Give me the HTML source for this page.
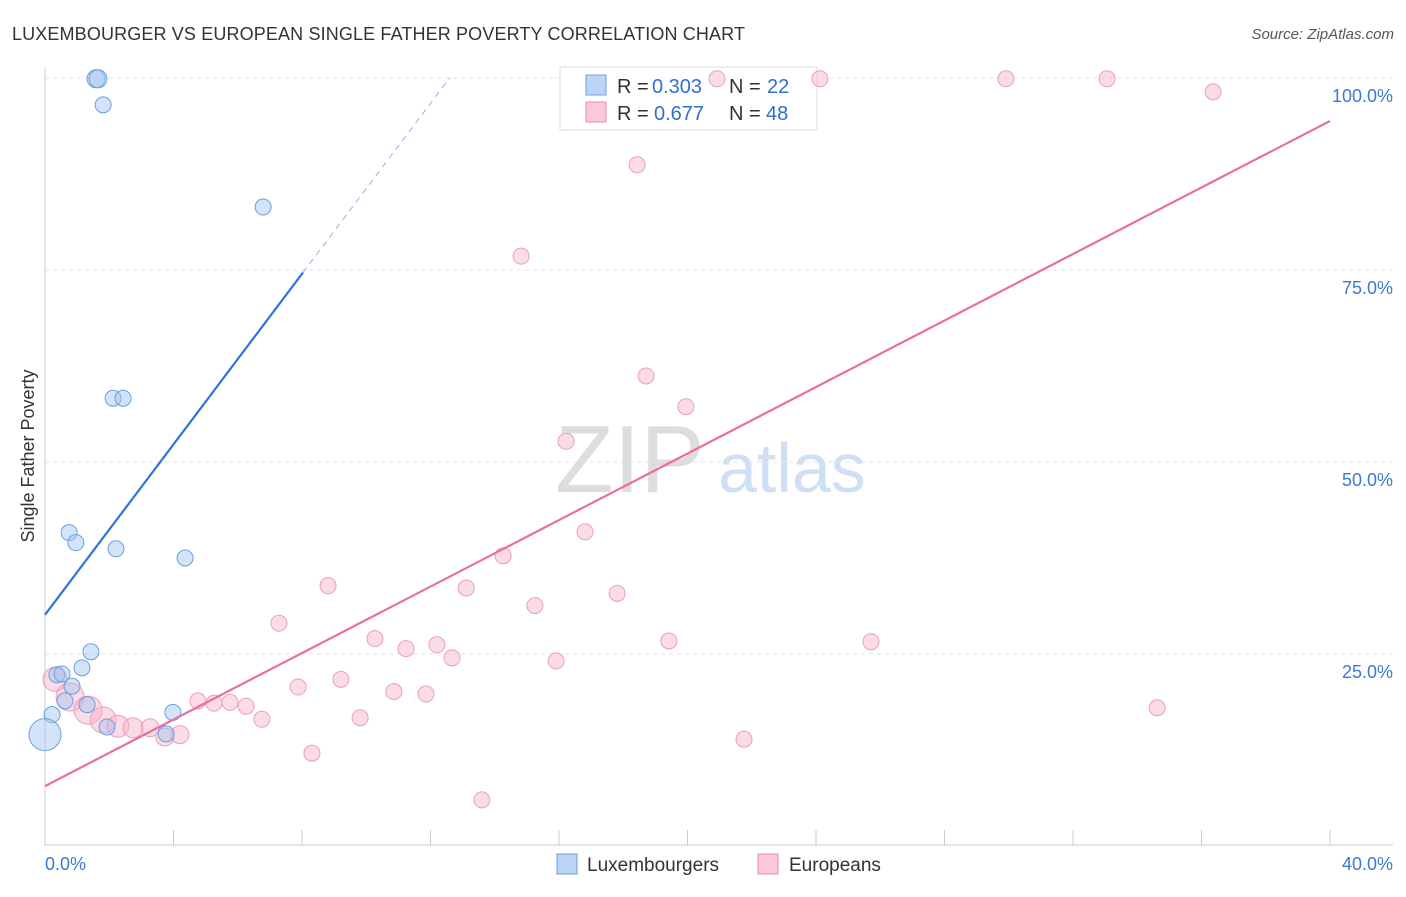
<!DOCTYPE html>
<html><head><meta charset="utf-8"><style>
body{margin:0;background:#fff;font-family:"Liberation Sans",sans-serif}
svg text{font-family:"Liberation Sans",sans-serif}
</style></head><body>
<svg id="c" width="1406" height="892">
<text x="12" y="40" font-size="18" fill="#333" textLength="733">LUXEMBOURGER VS EUROPEAN SINGLE FATHER POVERTY CORRELATION CHART</text>
<text x="1394" y="39" font-size="15" fill="#555" font-style="italic" text-anchor="end">Source: ZipAtlas.com</text>
<text x="34" y="456" font-size="18" fill="#333" text-anchor="middle" transform="rotate(-90 34 456)">Single Father Poverty</text>
<text x="555" y="492" font-size="96" fill="#ddd" font-family="Liberation Serif">ZIP</text>
<text x="718" y="492" font-size="70" fill="#cfe0f4">atlas</text>
<g id="grid"></g>
<g>
<rect x="560" y="67" width="257" height="63" fill="#fff" stroke="#ddd"/>
<rect x="586" y="75" width="20" height="20" fill="#bcd4f5" stroke="#6a9fe0"/>
<text x="617" y="93" font-size="20" fill="#333">R =</text>
<text x="652" y="93" font-size="20" fill="#2f6fd0">0.303</text>
<text x="729" y="93" font-size="20" fill="#333">N =</text>
<text x="767" y="93" font-size="20" fill="#2f6fd0">22</text>
<rect x="586" y="102" width="20" height="20" fill="#fbc8d8" stroke="#e889a8"/>
<text x="617" y="120" font-size="20" fill="#333">R =</text>
<text x="654" y="120" font-size="20" fill="#2f6fd0">0.677</text>
<text x="729" y="120" font-size="20" fill="#333">N =</text>
<text x="766" y="120" font-size="20" fill="#2f6fd0">48</text>
</g>
<g id="pts"></g><g id="lines"></g>
<g>
<rect x="557" y="854" width="20" height="20" fill="#bcd4f5" stroke="#6a9fe0"/>
<text x="587" y="871" font-size="19" fill="#333">Luxembourgers</text>
<rect x="758" y="854" width="20" height="20" fill="#fbc8d8" stroke="#e889a8"/>
<text x="789" y="871" font-size="19" fill="#333">Europeans</text>
</g>
</svg>
<script>
const yTicks=[25,50,75,100];
const xTickLabels=["0.0%","40.0%"];
const bluePts=[[1.59,99.9],[1.65,99.9],[1.81,96.5],[6.79,83.2],[2.12,58.3],[2.43,58.3],[0.75,40.8],[0.96,39.5],[2.21,38.7],[4.36,37.5],[1.43,25.3],[1.15,23.2],[0.37,22.3],[0.53,22.4],[0.84,20.8],[0.62,18.9],[1.31,18.4],[0.22,17.1],[0.0,14.5],[1.93,15.5],[3.98,17.4],[3.77,14.6]];
const blueSizes=[9,9,8,8,8,8,8,8,8,8,8,8,8,8,8,8,8,8,16,8,8,8];
const pinkPts=[[20.92,99.9],[24.12,99.9],[29.91,99.9],[33.06,99.9],[36.36,98.2],[18.43,88.7],[14.82,76.8],[18.71,61.2],[19.95,57.2],[16.22,52.7],[16.81,40.9],[14.26,37.8],[8.81,33.9],[13.11,33.6],[15.25,31.3],[17.81,32.9],[7.28,29.0],[10.27,27.0],[11.24,25.7],[12.2,26.2],[12.67,24.5],[19.42,26.7],[25.71,26.6],[15.91,24.1],[9.21,21.7],[7.88,20.7],[10.86,20.1],[11.86,19.8],[4.76,18.9],[5.26,18.6],[5.76,18.7],[6.26,18.2],[6.75,16.5],[9.81,16.7],[34.62,18.0],[8.31,12.1],[21.76,13.9],[13.6,6.0],[0.31,21.7],[0.78,19.4],[1.34,17.7],[1.81,16.4],[2.27,15.6],[2.74,15.4],[3.27,15.4],[3.73,14.2],[4.2,14.5]];
const pinkSizes=[8,8,8,8,8,8,8,8,8,8,8,8,8,8,8,8,8,8,8,8,8,8,8,8,8,8,8,8,8,8,8,8,8,8,8,8,8,8,12,14,14,13,11,10,9,9,9];
const blueLine=[30.1,5.55];
const pinkLine=[7.8,2.165];
const X=v=>45+v/40*1285, Y=v=>846-v/25*192;
const NS="http://www.w3.org/2000/svg";
function mk(p,t,a){const e=document.createElementNS(NS,t);for(const k in a)e.setAttribute(k,a[k]);p.appendChild(e);return e;}
const grid=document.getElementById('grid');
yTicks.forEach(t=>{
 const l=mk(grid,'line',{x1:45,x2:1393,y1:Y(t),y2:Y(t),stroke:'#e3e3e3','stroke-dasharray':'4,4'});
 
 
 const tx=mk(grid,'text',{x:1393,y:Y(t)+24,'font-size':18,fill:'#3a78d4','text-anchor':'end'});
 tx.textContent=t.toFixed(1)+'%';
 
 
});
mk(grid,'line',{x1:45,x2:45,y1:67,y2:846,stroke:'#ccc'});
mk(grid,'line',{x1:45,x2:1393,y1:845,y2:845,stroke:'#ccc'});
for(let i=0;i<=10;i++){const t=mk(grid,'line',{x1:X(i*4),x2:X(i*4),y1:830,y2:846,stroke:'#ccc'});
 
 }
[[0,'start',45],[1,'end',1393]].forEach(([i,a,x])=>{const t=mk(grid,'text',{x:x,y:870,'font-size':18,fill:'#3a78d4','text-anchor':a});t.textContent=xTickLabels[i];
 
 });
const pts=document.getElementById('pts');
pinkPts.forEach((p,i)=>{const c=mk(pts,'circle',{cx:X(p[0]),cy:Y(p[1]),r:pinkSizes[i],fill:'rgba(247,176,200,0.45)',stroke:'#eaa0b8','stroke-width':1});
 
 });
bluePts.forEach((p,i)=>{const c=mk(pts,'circle',{cx:X(p[0]),cy:Y(p[1]),r:blueSizes[i],fill:'rgba(160,195,240,0.45)',stroke:'#6a9fe0','stroke-width':1});
 
 });
const lines=document.getElementById('lines');
const bl=x=>blueLine[0]+blueLine[1]*x, pl=x=>pinkLine[0]+pinkLine[1]*x;
let e=mk(lines,'line',{x1:X(0),y1:Y(bl(0)),x2:X(8.03),y2:Y(bl(8.03)),stroke:'#2f74d8','stroke-width':2.2});


e=mk(lines,'line',{x1:X(8.03),y1:Y(bl(8.03)),x2:X(12.6),y2:Y(bl(12.6)),stroke:'#8fb3e6','stroke-width':1,'stroke-dasharray':'6,5'});


e=mk(lines,'line',{x1:X(0),y1:Y(pl(0)),x2:X(40),y2:Y(pl(40)),stroke:'#e8709a','stroke-width':2.2});


</script>
</body></html>
